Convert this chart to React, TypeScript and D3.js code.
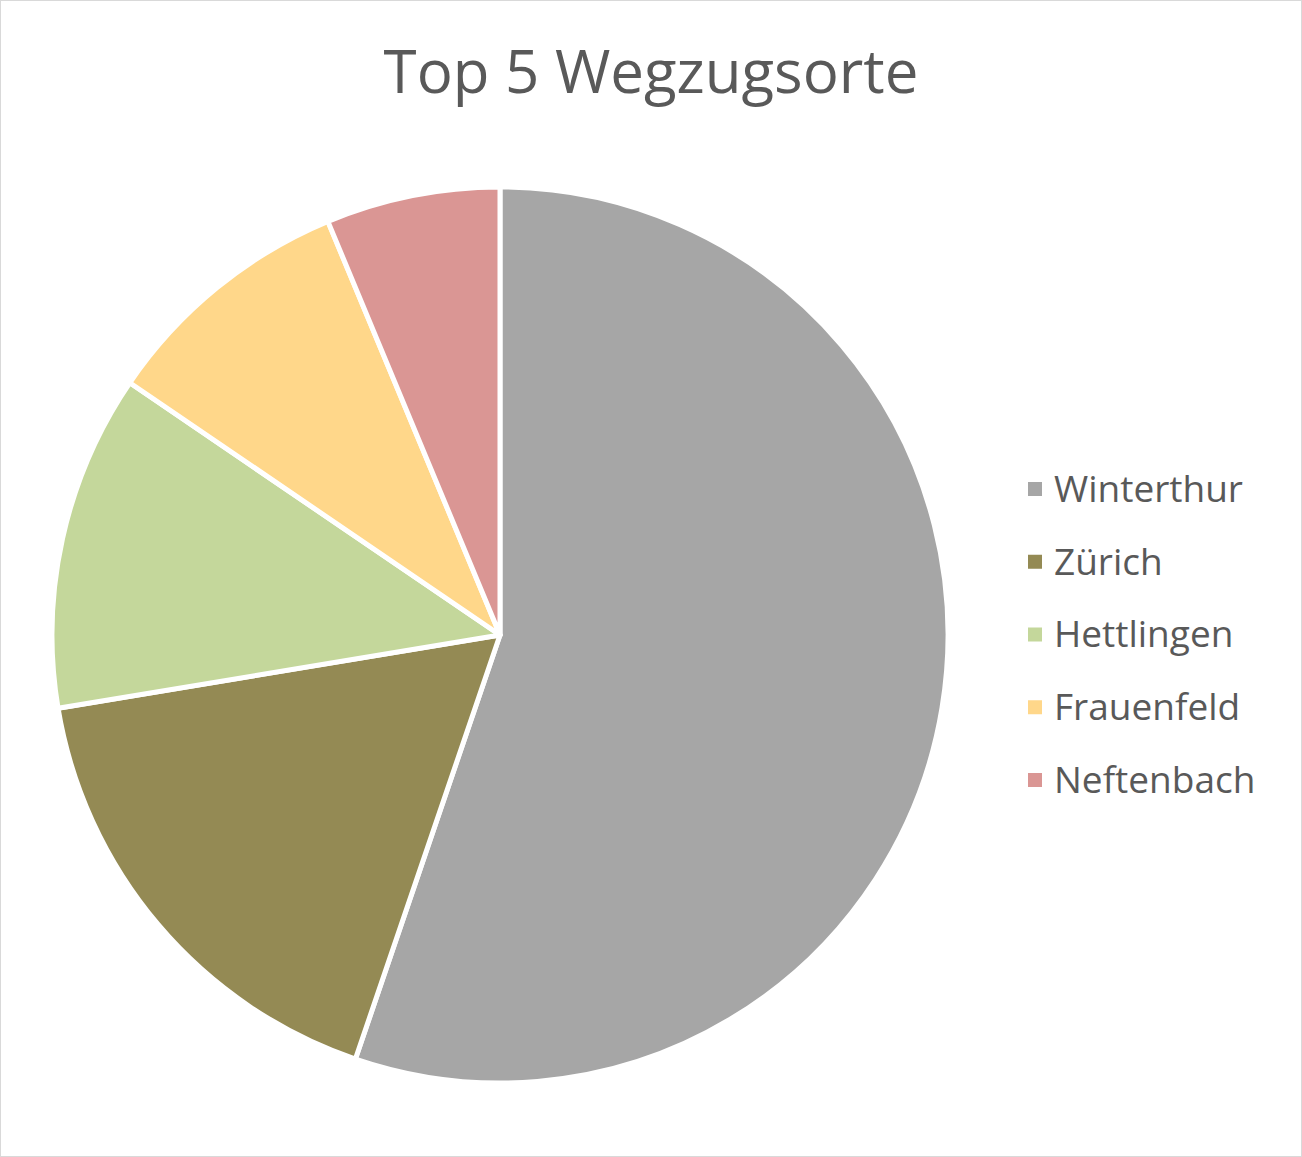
import React, { useRef, useEffect } from "react";
import * as d3 from "d3";

const places = ["Winterthur", "Zürich", "Hettlingen", "Frauenfeld", "Neftenbach"];
const counts = [132, 41, 29, 22, 15];
const colors = ["#A6A6A6", "#948A54", "#C4D79B", "#FFD78A", "#DA9694"];

const width = 1302;
const height = 1157;
const fontFamily = "'Open Sans', 'Noto Sans', sans-serif";

const App: React.FC = () => {
  const svgRef = useRef<SVGSVGElement>(null);

  useEffect(() => {
    if (!svgRef.current) return;
    d3.select(svgRef.current).selectAll("*").remove();

    const svg = d3
      .select(svgRef.current)
      .attr("width", width)
      .attr("height", height);

    svg
      .append("rect")
      .attr("x", 0.5)
      .attr("y", 0.5)
      .attr("width", width - 1)
      .attr("height", height - 1)
      .attr("fill", "#fff")
      .attr("stroke", "#D9D9D9")
      .attr("stroke-width", 1);

    // Title
    svg
      .append("text")
      .attr("x", 651)
      .attr("y", 93)
      .attr("text-anchor", "middle")
      .style("font-family", fontFamily)
      .style("font-size", "60px")
      .attr("fill", "#595959")
      .text("Top 5 Wegzugsorte");

    const data = places.map((p, i) => ({ place: p, value: counts[i] }));
    const color = d3.scaleOrdinal<string>().domain(places).range(colors);

    const pie = d3
      .pie<{ place: string; value: number }>()
      .sort(null)
      .value((d) => d.value);

    const arc = d3
      .arc<d3.PieArcDatum<{ place: string; value: number }>>()
      .innerRadius(0)
      .outerRadius(448);

    const g = svg.append("g").attr("transform", "translate(500,635)");

    g.selectAll("path")
      .data(pie(data))
      .enter()
      .append("path")
      .attr("d", arc)
      .attr("fill", (d) => color(d.data.place))
      .attr("stroke", "#fff")
      .attr("stroke-width", 5)
      .attr("stroke-linejoin", "round");

    // Legend
    const legendY = d3.scalePoint<string>().domain(places).range([489, 780]);
    const legend = svg.append("g");

    places.forEach((p) => {
      const row = legend
        .append("g")
        .attr("transform", `translate(1028, ${legendY(p)})`);

      row
        .append("rect")
        .attr("x", 0)
        .attr("y", -7)
        .attr("width", 14)
        .attr("height", 14)
        .attr("fill", color(p));

      row
        .append("text")
        .attr("x", 26)
        .attr("y", 0)
        .attr("dy", "0.35em")
        .style("font-family", fontFamily)
        .style("font-size", "37px")
        .attr("fill", "#595959")
        .text(p);
    });
  }, []);

  return (
    <div style={{ position: "absolute", left: 0, top: 0 }}>
      <svg ref={svgRef} style={{ display: "block" }} />
    </div>
  );
};

export default App;
